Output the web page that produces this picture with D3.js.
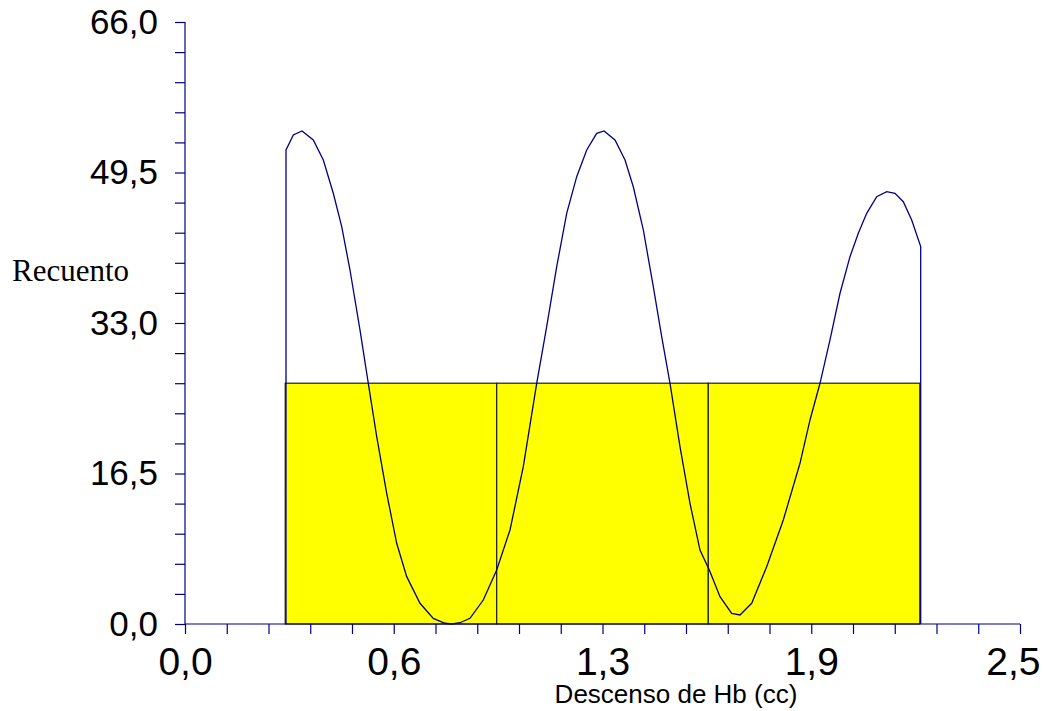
<!DOCTYPE html>
<html>
<head>
<meta charset="utf-8">
<script src="https://cdn.jsdelivr.net/npm/d3@7"></script>
<style>
  body { margin: 0; background: #fff; }
  svg { display: block; }
</style>
</head>
<body>
<div id="chart"></div>
<script>
// histogram bins (Descenso de Hb) and counts
var binEdges = [0.30, 0.9333, 1.5667, 2.2];
var binCounts = [26.4, 26.4, 26.4];

// fitted curve
var curveX = [0.3024, 0.3243, 0.3503, 0.3841, 0.4141, 0.4440, 0.4692, 0.4940, 0.5240, 0.5488,
  0.5740, 0.6039, 0.6338, 0.6638, 0.7036, 0.7434, 0.7784, 0.7994, 0.8234, 0.8533,
  0.8931, 0.9332, 0.9731, 1.0129, 1.0530, 1.0829, 1.1129, 1.1428, 1.1728, 1.2027,
  1.2326, 1.2545, 1.2874, 1.3174, 1.3422, 1.3722, 1.4021, 1.4272, 1.4521, 1.4820,
  1.5120, 1.5419, 1.5698, 1.6018, 1.6368, 1.6617, 1.6967, 1.7416, 1.7913, 1.8413,
  1.8713, 1.9012, 1.9311, 1.9611, 1.9910, 2.0159, 2.0410, 2.0710, 2.1009, 2.1257,
  2.1506, 2.1757, 2.2027];
var curveY = [51.97, 53.61, 54.05, 53.06, 50.87, 47.22, 43.56, 38.81, 32.23, 26.39,
  20.54, 14.33, 8.85, 5.19, 2.27, 0.62, 0.08, 0.0, 0.14, 0.62,
  2.63, 5.92, 10.31, 17.25, 26.39, 32.60, 39.17, 45.02, 49.04, 51.97,
  53.79, 54.05, 53.06, 50.87, 47.94, 43.20, 36.98, 31.50, 26.39, 19.44,
  13.23, 8.11, 5.92, 2.99, 1.17, 0.99, 2.27, 6.28, 11.40, 17.62,
  22.37, 26.39, 31.14, 36.26, 40.27, 42.83, 45.02, 46.85, 47.40, 47.22,
  46.30, 44.29, 41.37];

// axis settings
var xMax = 2.5, yMax = 66;
var xTickStep = 0.125, yTickStep = 3.3;
var xLabelEvery = 5, yLabelEvery = 5;

var svgWidth = 1043;
var svgHeight = 711;
var navy = "#000080";

var locale = d3.formatLocale({decimal: ",", thousands: ".", grouping: [3], currency: ["", ""]});
var fmt = locale.format(".1f");

var svg = d3.select("#chart")
  .append("svg")
  .attr("width", svgWidth)
  .attr("height", svgHeight);

var x = d3.scaleLinear().domain([0, xMax]).range([185, 1020]);
var y = d3.scaleLinear().domain([0, yMax]).range([624, 22]);

// bars
var bins = binCounts.map(function(c, i) {
  return {x0: binEdges[i], x1: binEdges[i + 1], count: c};
});

svg.append("g")
  .selectAll("rect")
  .data(bins)
  .enter()
  .append("rect")
  .attr("x", d => x(d.x0))
  .attr("y", d => y(d.count))
  .attr("width", d => x(d.x1) - x(d.x0))
  .attr("height", d => y(0) - y(d.count))
  .attr("fill", "#ffff00")
  .attr("stroke", "#1c1c3c")
  .attr("stroke-width", 1.2);

// axes
var yTicks = d3.range(0, 21).map(i => +(i * yTickStep).toFixed(2));
var xTicks = d3.range(0, 21).map(i => i * xTickStep);

var yAxis = d3.axisLeft(y)
  .tickValues(yTicks)
  .tickSize(10)
  .tickPadding(17)
  .tickFormat((d, i) => i % yLabelEvery === 0 ? fmt(d) : "");

var xAxis = d3.axisBottom(x)
  .tickValues(xTicks)
  .tickSize(10)
  .tickPadding(13)
  .tickFormat((d, i) => i % xLabelEvery === 0 ? fmt(d) : "");

var gy = svg.append("g")
  .attr("transform", "translate(185,0)")
  .call(yAxis);

var gx = svg.append("g")
  .attr("transform", "translate(0,624)")
  .call(xAxis);

[gx, gy].forEach(function(g) {
  g.select(".domain").attr("stroke", navy).attr("stroke-width", 1.2);
  g.selectAll(".tick line").attr("stroke", navy).attr("stroke-width", 1.2);
  g.selectAll(".tick text")
    .attr("fill", "#000")
    .style("font-family", "'Liberation Sans', Arial, sans-serif");
});
gy.selectAll(".tick text").style("font-size", "35px");
gx.selectAll(".tick text").style("font-size", "39px");
// last label is pulled in so it stays inside the window
gx.selectAll(".tick text")
  .filter(d => d === xMax)
  .attr("text-anchor", "end")
  .attr("x", 1040 - x(xMax));
gy.select(".domain").attr("d", "M0," + y(yMax) + "V" + y(0));
gx.select(".domain").attr("d", "M" + x(0) + ",0H" + x(xMax));

// curve
var pts = curveX.map((v, i) => [v, curveY[i]]);
pts.unshift([curveX[0], 0]);
pts.push([curveX[curveX.length - 1], 0]);

var line = d3.line()
  .x(d => x(d[0]))
  .y(d => y(d[1]));

svg.append("path")
  .datum(pts)
  .attr("d", line)
  .attr("fill", "none")
  .attr("stroke", navy)
  .attr("stroke-width", 1.3);

// axis titles
svg.append("text")
  .attr("x", 676)
  .attr("y", 703)
  .attr("text-anchor", "middle")
  .style("font-family", "'Liberation Sans', Arial, sans-serif")
  .style("font-size", "26px")
  .text("Descenso de Hb (cc)");

svg.append("text")
  .attr("x", 12)
  .attr("y", 281)
  .style("font-family", "'Liberation Serif', 'Times New Roman', serif")
  .style("font-size", "31px")
  .text("Recuento");
</script>
</body>
</html>
